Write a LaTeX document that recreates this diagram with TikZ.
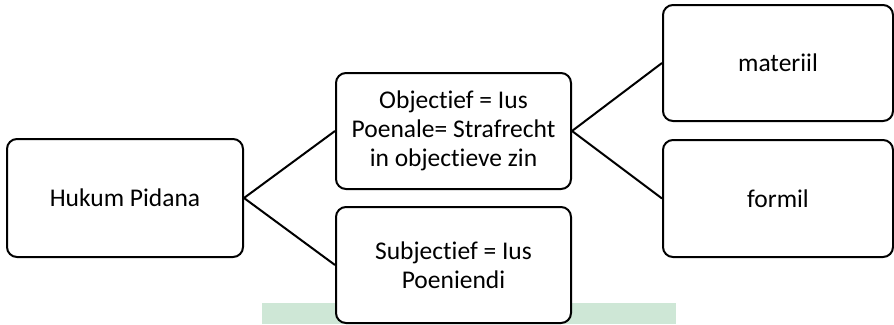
\documentclass[tikz,border=0pt]{standalone}
\usepackage{fontspec}
\setmainfont{Carlito}[Ligatures={NoCommon,NoRare}]
\definecolor{bandgreen}{RGB}{206,231,214}
\begin{document}
\begin{tikzpicture}[x=1pt,y=-1pt,
  box/.style={draw=black,line width=2pt,rounded corners=10pt,fill=white,
    align=center,inner sep=0pt,font=\fontsize{25.5}{29}\selectfont},
  link/.style={draw=black,line width=2pt}]
\useasboundingbox (0,0) rectangle (894,324);
\fill[bandgreen] (262,303) rectangle (676,324);
\node[box,minimum width=236pt,minimum height=118pt] (hp) at (125,198) {Hukum Pidana};
\node[box,minimum width=235pt,minimum height=116pt] (obj) at (453.5,131) {Objectief = Ius\\Poenale= Strafrecht\\in objectieve zin};
\node[box,minimum width=235pt,minimum height=116pt] (sub) at (453.5,265) {Subjectief = Ius\\Poeniendi};
\node[box,minimum width=230pt,minimum height=116pt] (mat) at (778,63) {materiil};
\node[box,minimum width=230pt,minimum height=117pt] (for) at (778,198.5) {formil};
\draw[link] (obj.west) -- (hp.east) -- (sub.west);
\draw[link] (mat.west) -- (obj.east) -- (for.west);
\end{tikzpicture}
\end{document}
